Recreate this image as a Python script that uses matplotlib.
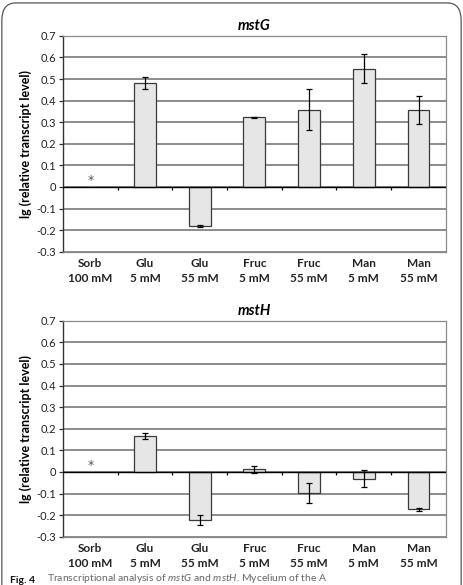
import numpy as np
import matplotlib.pyplot as plt
from matplotlib.patches import FancyBboxPatch
from matplotlib.transforms import blended_transform_factory

plt.rcParams['font.family'] = ['Lato', 'DejaVu Sans']
plt.rcParams['mathtext.fontset'] = 'custom'
plt.rcParams['mathtext.it'] = 'Lato:italic'
plt.rcParams['mathtext.rm'] = 'Lato'

# categories
cat_top = ["Sorb", "Glu", "Glu", "Fruc", "Fruc", "Man", "Man"]
cat_bot = ["100 mM", "5 mM", "55 mM", "5 mM", "55 mM", "5 mM", "55 mM"]

# mstG
mstG_val = [0.0, 0.482, -0.181, 0.322, 0.358, 0.547, 0.357]
mstG_err = [0.0, 0.028, 0.004, 0.004, 0.095, 0.067, 0.065]

# mstH
mstH_val = [0.0, 0.168, -0.223, 0.012, -0.097, -0.031, -0.172]
mstH_err = [0.0, 0.014, 0.022, 0.017, 0.045, 0.040, 0.007]

yticks = np.round(np.arange(-0.3, 0.71, 0.1), 1)

fig = plt.figure(figsize=(4.63, 5.85), dpi=100)

# rounded frame of the figure box
frame = FancyBboxPatch((0.004, -0.05), 0.992, 1.045, boxstyle="round,pad=0,rounding_size=0.03",
                       transform=fig.transFigure, fill=False, edgecolor="#555555", lw=0.9)
fig.patches.append(frame)


def panel(rect, vals, errs, title):
    ax = fig.add_axes(rect)
    x = np.arange(len(vals))
    ax.set_xlim(-0.5, len(vals) - 0.5)
    ax.set_ylim(-0.3, 0.7)
    for y in yticks:
        ax.axhline(y, color="#6e6e6e", lw=1.1, zorder=0)
    mask = np.array(errs) > 0
    ax.bar(x[1:], vals[1:], width=0.4, color="#e6e6e6", edgecolor="#3a3a3a", lw=0.9, zorder=2)
    ax.errorbar(x[mask], np.array(vals)[mask], yerr=np.array(errs)[mask], fmt="none",
                ecolor="black", elinewidth=0.9, capsize=2.2, capthick=0.9, zorder=3)
    ax.axhline(0, color="black", lw=1.0, zorder=4)
    bounds = np.arange(0.5, len(vals) - 0.5, 1.0)
    ax.vlines(bounds, -0.012, 0, color="black", lw=0.9, zorder=4)
    ax.text(x[0], 0.028, "*", ha="center", va="center", fontsize=9, color="#555555",
            family="DejaVu Sans")
    ax.plot([x[0] - 0.04, x[0] + 0.04], [0.003, 0.003], color="#999999", lw=0.8)
    ax.set_xticks([])
    ax.set_yticks(yticks)
    ax.set_yticklabels([("%g" % v) for v in yticks], fontsize=8, color="#222222")
    ax.tick_params(axis="y", length=3, width=0.9, pad=2, color="#333333")
    for s in ["top", "right", "bottom"]:
        ax.spines[s].set_color("#8a8a8a")
        ax.spines[s].set_linewidth(0.9)
    ax.spines["left"].set_color("#333333")
    ax.spines["left"].set_linewidth(1.0)
    tr = blended_transform_factory(ax.transData, ax.transAxes)
    for i in x:
        ax.text(i, -0.03, cat_top[i], transform=tr, ha="center", va="top",
                fontsize=8.5, fontweight="bold", color="#222222")
        ax.text(i, -0.10, cat_bot[i], transform=tr, ha="center", va="top",
                fontsize=8.5, fontweight="bold", color="#222222")
    ax.set_title(title, fontsize=10.5, fontweight="bold", style="italic", pad=4)
    ax.set_ylabel("lg (relative transcript level)", fontsize=9, fontweight="bold", labelpad=3)
    return ax


panel([0.136, 0.5697, 0.827, 0.369], mstG_val, mstG_err, "mstG")
panel([0.136, 0.0826, 0.827, 0.369], mstH_val, mstH_err, "mstH")

fig.text(0.022, 0.0005, "Fig. 4", fontsize=7.5, fontweight="bold", va="bottom", color="#111111")
fig.text(0.102, 0.0005, r"Transcriptional analysis of $\it{mstG}$ and $\it{mstH}$. Mycelium of the A",
         fontsize=7.5, va="bottom", color="#666666")

fig.savefig("out.png", dpi=100)
